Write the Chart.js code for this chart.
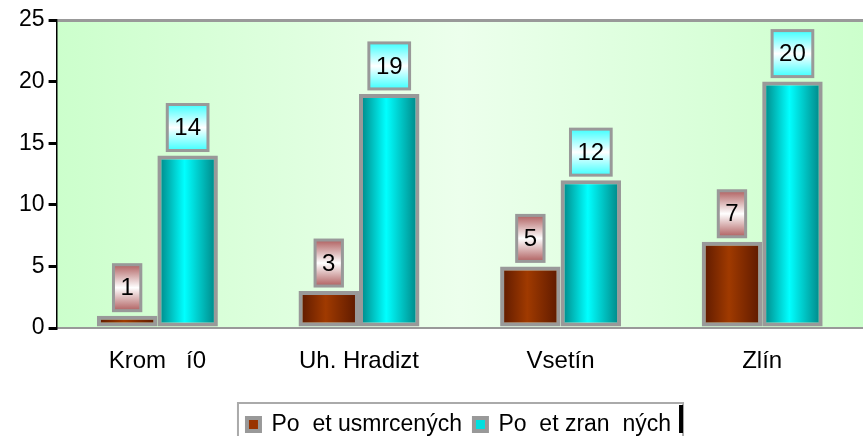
<!DOCTYPE html>
<html lang="cs">
<head>
<meta charset="UTF-8">
<title>Nehody</title>
<script src="https://cdn.jsdelivr.net/npm/chart.js"></script>
<style>
  html, body { margin: 0; padding: 0; background: #fff; }
  #wrap { width: 863px; height: 436px; }
</style>
</head>
<body>
<div id="wrap"><canvas id="chart" width="863" height="436"></canvas></div>
<script>
// Data
const labels = ["Krom   í0", "Uh. Hradizt", "Vsetín", "Zlín"];
const usmrceni = [1, 3, 5, 7];
const zraneni = [14, 19, 12, 20];
const seriesNames = ["Po  et usmrcených", "Po  et zran  ných"];
const yTicks = [0, 5, 10, 15, 20, 25];

const FONT = "'Liberation Sans', Arial, sans-serif";

// barvy: okraj, stred
const barColors = [
  { edge: "#5a1800", mid: "#a03a00", flat: "#993300" },
  { edge: "#007f7f", mid: "#00ffff", flat: "#00e0e0" }
];
const labelColors = ["#b06060", "#40ffff"];

function barGradient(ctx) {
  const chart = ctx.chart;
  const c = barColors[ctx.datasetIndex];
  const x = chart.scales.x;
  if (!x || ctx.dataIndex === undefined) return c.flat;
  const center = x.getPixelForValue(ctx.dataIndex);
  const catW = x.width / labels.length;
  const barW = catW * 0.6 / 2;
  const left = ctx.datasetIndex === 0 ? center - barW : center;
  const g = chart.ctx.createLinearGradient(left, 0, left + barW, 0);
  g.addColorStop(0, c.edge);
  g.addColorStop(0.45, c.mid);
  g.addColorStop(1, c.edge);
  return g;
}

// pozadi grafu
const bgPlugin = {
  id: 'plotBg',
  beforeDraw(chart) {
    const a = chart.chartArea, c = chart.ctx;
    const g = c.createLinearGradient(a.left, 0, a.right, 0);
    g.addColorStop(0, "#ccffcc");
    g.addColorStop(0.5, "#ecffec");
    g.addColorStop(1, "#ccffcc");
    c.save();
    c.fillStyle = g;
    c.fillRect(a.left, a.top, a.right - a.left, a.bottom - a.top);
    c.restore();
  }
};

// popisky hodnot v rameckach
const labelPlugin = {
  id: 'valueBoxes',
  afterDatasetsDraw(chart) {
    const c = chart.ctx;
    c.save();
    c.font = "24px " + FONT;
    c.textAlign = "center";
    c.textBaseline = "middle";
    chart.data.datasets.forEach((ds, di) => {
      chart.getDatasetMeta(di).data.forEach((bar, i) => {
        const txt = String(ds.data[i]);
        const w = c.measureText(txt).width + 14;
        const h = 46;
        const x = bar.x - w / 2;
        const y = bar.y - 5 - h;
        const g = c.createLinearGradient(0, y, 0, y + h);
        g.addColorStop(0, labelColors[di]);
        g.addColorStop(0.5, "#ffffff");
        g.addColorStop(1, labelColors[di]);
        c.fillStyle = g;
        c.fillRect(x, y, w, h);
        c.strokeStyle = "#999";
        c.lineWidth = 3;
        c.strokeRect(x, y, w, h);
        c.fillStyle = "#000";
        c.fillText(txt, bar.x, y + h / 2 + 1);
      });
    });
    c.restore();
  }
};

// legenda trochu vpravo + ramecek
const LEGEND_SHIFT = 20;
const legendBox = {
  id: 'legendBox',
  afterLayout(chart) {
    const l = chart.legend;
    l.left += LEGEND_SHIFT;
    l.right += LEGEND_SHIFT;
    (l.legendHitBoxes || []).forEach(b => { b.left += LEGEND_SHIFT; });
  },
  afterDraw(chart) {
    const l = chart.legend, c = chart.ctx;
    const hb = l.legendHitBoxes;
    if (!hb || !hb.length) return;
    const left = Math.min(...hb.map(b => b.left)) - 9;
    const right = Math.max(...hb.map(b => b.left + b.width)) + 12;
    const top = Math.min(...hb.map(b => b.top)) - 10;
    c.save();
    c.strokeStyle = "#aaa";
    c.lineWidth = 2;
    c.strokeRect(left, top, right - left, 60);
    c.fillStyle = "#000";
    c.fillRect(right - 4, top + 2, 4, 28);
    c.restore();
  }
};

new Chart(document.getElementById('chart'), {
  type: 'bar',
  data: {
    labels: labels,
    datasets: [
      { label: seriesNames[0], data: usmrceni, backgroundColor: barGradient, borderColor: "#999", borderWidth: 4, borderSkipped: false },
      { label: seriesNames[1], data: zraneni, backgroundColor: barGradient, borderColor: "#999", borderWidth: 4, borderSkipped: false }
    ]
  },
  options: {
    responsive: false,
    animation: false,
    datasets: { bar: { categoryPercentage: 0.6, barPercentage: 1 } },
    layout: { padding: { top: 20, right: 0, left: 15, bottom: -10 } },
    plugins: {
      tooltip: { enabled: false },
      legend: {
        position: 'bottom',
        labels: {
          color: "#000",
          font: { size: 23, family: FONT },
          boxWidth: 13,
          boxHeight: 13,
          padding: 12,
          generateLabels(chart) {
            return chart.data.datasets.map((ds, i) => ({
              text: ds.label,
              fillStyle: barColors[i].flat,
              strokeStyle: "#999",
              lineWidth: 4,
              datasetIndex: i,
              fontColor: "#000"
            }));
          }
        }
      }
    },
    scales: {
      x: {
        grid: { display: false },
        border: { color: "#999", width: 2 },
        ticks: { color: "#000", padding: 11, font: { size: 24, family: FONT } },
        afterFit(scale) { scale.height = 73; }
      },
      y: {
        min: 0,
        max: 25,
        afterBuildTicks(axis) { axis.ticks = yTicks.map(v => ({ value: v })); },
        grid: {
          color: ctx => ctx.tick && ctx.tick.value === 25 ? "#999" : "rgba(0,0,0,0)",
          lineWidth: 3,
          tickColor: "#000",
          tickLength: 8,
          drawTicks: true
        },
        border: { color: "#000", width: 1.5 },
        ticks: { color: "#000", padding: 4, font: { size: 23, family: FONT } }
      }
    }
  },
  plugins: [bgPlugin, labelPlugin, legendBox]
});
</script>
</body>
</html>
